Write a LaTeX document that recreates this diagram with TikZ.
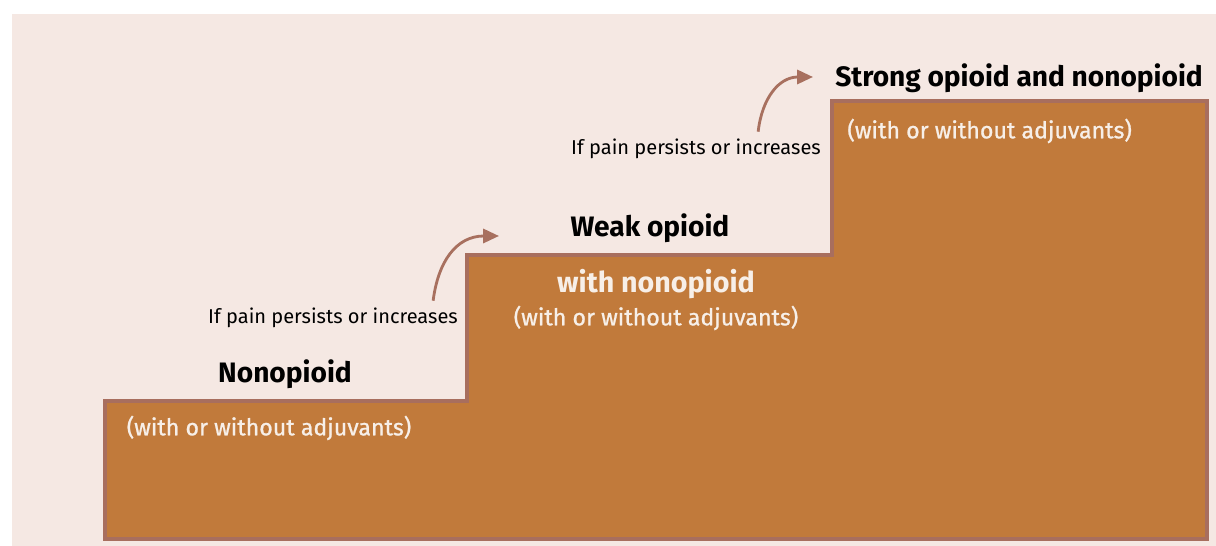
\documentclass[tikz,border=0pt]{standalone}
\usepackage{fontspec}
\setmainfont{Fira Sans}
\newfontfamily\medfont[FakeBold=1]{Fira Sans}
\usetikzlibrary{arrows.meta}

\definecolor{paper}{HTML}{F5E8E3}
\definecolor{stepfill}{HTML}{C17A3B}
\definecolor{stepline}{HTML}{A86E5E}
\definecolor{arrowcol}{HTML}{A8705F}
\definecolor{softwhite}{HTML}{F7EFE8}

\tikzset{
  head/.style={font=\fontsize{16}{19}\selectfont\bfseries, text=black, inner sep=0pt},
  note/.style={font=\fontsize{11.4}{13}\selectfont, text=black, inner sep=0pt},
  inside/.style={font=\fontsize{13.2}{15}\selectfont\medfont, text=softwhite, inner sep=0pt},
  painarrow/.style={draw=arrowcol, line width=1.6pt, -{Triangle[length=9pt,width=8pt]}}
}

\begin{document}
\begin{tikzpicture}[x=0.02cm,y=-0.02cm]

%%%%%%%%%%%%%%%%%%%%%%%%%%%%%%%%%%%%%%%%%%%%%%%%%%%%%%%%%%%%
% BACKGROUND
%%%%%%%%%%%%%%%%%%%%%%%%%%%%%%%%%%%%%%%%%%%%%%%%%%%%%%%%%%%%

\useasboundingbox (0,0) rectangle (1216,546);
\fill[white] (0,0) rectangle (1216,546);
\fill[paper] (12,14) rectangle (1216,546);

%%%%%%%%%%%%%%%%%%%%%%%%%%%%%%%%%%%%%%%%%%%%%%%%%%%%%%%%%%%%
% STAIRCASE
%%%%%%%%%%%%%%%%%%%%%%%%%%%%%%%%%%%%%%%%%%%%%%%%%%%%%%%%%%%%

\draw[
fill=stepfill,
draw=stepline,
line width=2.6pt
]
(105,539) -- (105,401) -- (467,401) -- (467,255)
-- (832,255) -- (832,101) -- (1207,101) -- (1207,539) -- cycle;

%%%%%%%%%%%%%%%%%%%%%%%%%%%%%%%%%%%%%%%%%%%%%%%%%%%%%%%%%%%%
% Step 1
%%%%%%%%%%%%%%%%%%%%%%%%%%%%%%%%%%%%%%%%%%%%%%%%%%%%%%%%%%%%

\node[head](nonopioid) at (285,374) {Nonopioid};

\node[inside](adjuvants1) at (269,428) {(with or without adjuvants)};

\node[note](persists1) at (333,318) {If pain persists or increases};

%%%%%%%%%%%%%%%%%%%%%%%%%%%%%%%%%%%%%%%%%%%%%%%%%%%%%%%%%%%%
% Step 2
%%%%%%%%%%%%%%%%%%%%%%%%%%%%%%%%%%%%%%%%%%%%%%%%%%%%%%%%%%%%

\node[head](weak) at (650,228) {Weak opioid};

\node[
inside,
font=\fontsize{16.3}{19}\selectfont\bfseries
](withnon) at (656,284) {with nonopioid};

\node[inside](adjuvants2) at (656,318) {(with or without adjuvants)};

\node[note](persists2) at (696,149) {If pain persists or increases};

%%%%%%%%%%%%%%%%%%%%%%%%%%%%%%%%%%%%%%%%%%%%%%%%%%%%%%%%%%%%
% Step 3
%%%%%%%%%%%%%%%%%%%%%%%%%%%%%%%%%%%%%%%%%%%%%%%%%%%%%%%%%%%%

\node[
head,
anchor=west
](strong) at (835,78) {Strong opioid and nonopioid};

\node[
inside,
anchor=west
](adjuvants3) at (847,131) {(with or without adjuvants)};

%%%%%%%%%%%%%%%%%%%%%%%%%%%%%%%%%%%%%%%%%%%%%%%%%%%%%%%%%%%%
% Arrows
%%%%%%%%%%%%%%%%%%%%%%%%%%%%%%%%%%%%%%%%%%%%%%%%%%%%%%%%%%%%

\coordinate (tip1) at (499,236);
\coordinate (tip2) at (813,77);

\draw[painarrow] ([xshift=-0.5cm,yshift=0.14cm]persists1.north east)
  .. controls (438,262) and (456,236) .. (tip1);
\draw[painarrow] ([xshift=-1.26cm,yshift=0.14cm]persists2.north east)
  .. controls (762,98) and (779,77) .. (tip2);

\end{tikzpicture}
\end{document}
